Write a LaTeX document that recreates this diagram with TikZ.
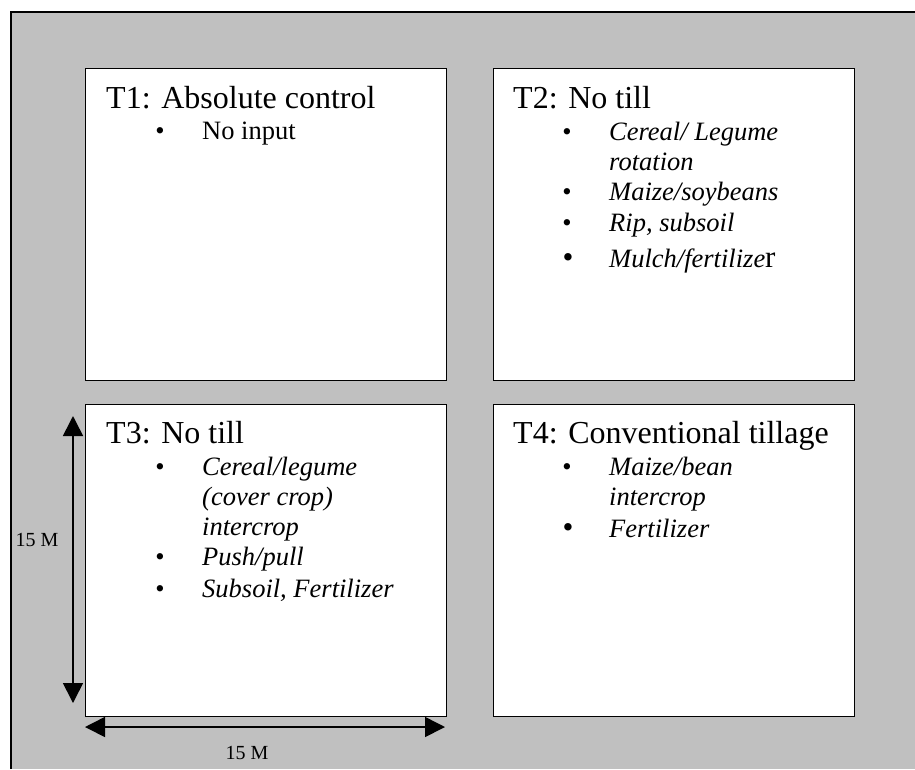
\documentclass[tikz,border=0pt]{standalone}
\usepackage{fontspec}
\setmainfont{Liberation Serif}
\usetikzlibrary{arrows.meta}
\definecolor{bggray}{HTML}{C0C0C0}
\tikzset{
  plot/.style={draw=black, line width=1.3pt, fill=white, minimum width=361pt, minimum height=312pt, anchor=north west, inner sep=0pt},
  ttl/.style={anchor=base west, inner sep=0pt, font=\fontsize{32}{36}\selectfont},
  itm/.style={anchor=base west, inner sep=0pt, font=\fontsize{26.5}{30}\selectfont\itshape},
  itmup/.style={anchor=base west, inner sep=0pt, font=\fontsize{26.5}{30}\selectfont},
  bul/.style={anchor=base, inner sep=0pt, font=\fontsize{26.5}{30}\selectfont},
  bigbul/.style={anchor=base, inner sep=0pt, font=\fontsize{31}{34}\selectfont},
  dim/.style={line width=1.6pt, {Triangle[length=20pt,width=20pt]}-{Triangle[length=20pt,width=20pt]}},
  dimlbl/.style={inner sep=0pt, font=\fontsize{20}{22}\selectfont}
}
\begin{document}
\begin{tikzpicture}[x=1pt,y=-1pt]
\useasboundingbox (0,0) rectangle (915,769);
\fill[bggray] (11,12) rectangle (915,769);
\draw[line width=1.2pt] (11,769) -- (11,12) -- (915,12);

\node[plot] (t1) at (85,68) {};
\node[plot] (t2) at (493,68) {};
\node[plot] (t3) at (85,404) {};
\node[plot] (t4) at (493,404) {};

% T1
\node[ttl] (t1h) at (106,108) {T1: Absolute control};
\node[bul] (t1b1) at (160,139) {\textbullet};
\node[itmup] (t1i1) at (202,139) {No input};

% T2
\node[ttl] (t2h) at (513,108) {T2: No till};
\node[bul] (t2b1) at (567,140) {\textbullet};
\node[itm] (t2i1) at (609,140) {Cereal/ Legume};
\node[itm] (t2i1b) at (609,170) {rotation};
\node[bul] (t2b2) at (567,200) {\textbullet};
\node[itm] (t2i2) at (609,200) {Maize/soybeans};
\node[bul] (t2b3) at (567,231) {\textbullet};
\node[itm] (t2i3) at (609,231) {Rip, subsoil};
\node[bigbul] (t2b4) at (568,267) {\textbullet};
\node[itm] (t2i4) at (609,267) {Mulch/fertilize{\upshape\fontsize{31}{34}\selectfont r}};

% T3
\node[ttl] (t3h) at (106,443) {T3: No till};
\node[bul] (t3b1) at (160,475) {\textbullet};
\node[itm] (t3i1) at (202,475) {Cereal/legume};
\node[itm] (t3i1b) at (202,505) {(cover crop)};
\node[itm] (t3i1c) at (202,535) {intercrop};
\node[bul] (t3b2) at (160,565) {\textbullet};
\node[itm] (t3i2) at (202,565) {Push/pull};
\node[bul] (t3b3) at (160,597) {\textbullet};
\node[itm] (t3i3) at (202,597) {Subsoil, Fertilizer};

% T4
\node[ttl] (t4h) at (513,443) {T4: Conventional tillage};
\node[bul] (t4b1) at (567,475) {\textbullet};
\node[itm] (t4i1) at (609,475) {Maize/bean};
\node[itm] (t4i1b) at (609,505) {intercrop};
\node[bigbul] (t4b2) at (568,537) {\textbullet};
\node[itm] (t4i2) at (609,537) {Fertilizer};

% dimensions
\coordinate (va) at (73,416);
\coordinate (vb) at (73,703);
\draw[dim] (va) -- (vb);
\coordinate (ha) at (85,727);
\coordinate (hb) at (445,727);
\draw[dim] (ha) -- (hb);
\node[dimlbl] (vl) at (37,540) {15 M};
\node[dimlbl] (hl) at (247,753) {15 M};
\end{tikzpicture}
\end{document}
